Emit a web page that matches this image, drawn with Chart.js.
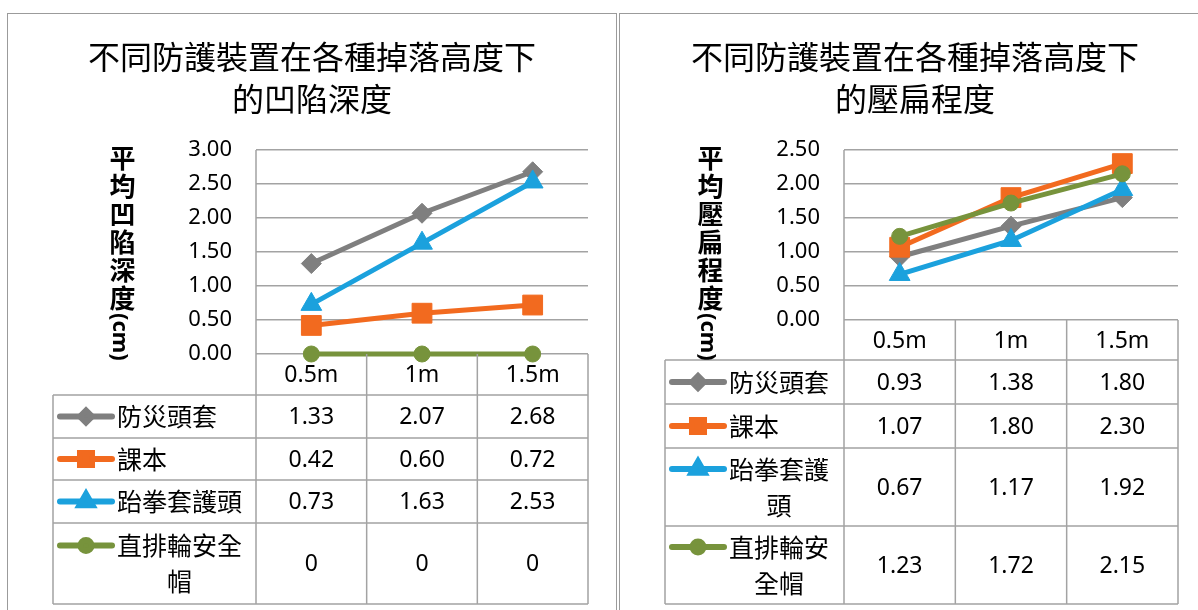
<!DOCTYPE html>
<html>
<head>
<meta charset="utf-8">
<script src="https://cdn.jsdelivr.net/npm/chart.js@4.4.1/dist/chart.umd.min.js"></script>
<style>
html, body { margin: 0; padding: 0; background: #fff; width: 1198px; height: 610px; overflow: hidden; }
.panel { position: absolute; top: 13px; height: 600px; box-sizing: border-box; border: 1px solid #9b9b9b; background: #fff; }
#panelDent { left: 7px; width: 610px; }
#panelFlat { left: 619px; width: 592px; }
.panel canvas { position: absolute; left: 0; top: 0; }
.title { position: absolute; left: 0; right: 0; top: 20px; text-align: center; font: 32px/42px "Noto Sans CJK TC"; color: #000; }
.ytitle { position: absolute; top: 131px; writing-mode: vertical-rl; font: bold 26px "Noto Sans CJK TC"; letter-spacing: 2px; line-height: 30px; color: #000; }
.ytitle span { font: bold 22px "Noto Sans"; letter-spacing: 0; }
</style>
</head>
<body>
<div class="panel" id="panelDent">
  <canvas id="dentChart" width="608" height="598"></canvas>
  <div class="title">不同防護裝置在各種掉落高度下<br>的凹陷深度</div>
  <div class="ytitle" style="left:99px">平均凹陷深度<span>(cm)</span></div>
</div>
<div class="panel" id="panelFlat">
  <canvas id="flatChart" width="590" height="598"></canvas>
  <div class="title">不同防護裝置在各種掉落高度下<br>的壓扁程度</div>
  <div class="ytitle" style="left:75px">平均壓扁程度<span>(cm)</span></div>
</div>
<script>
const dropHeights = ['0.5m', '1m', '1.5m'];
const deviceNames = ['防災頭套', '課本', '跆拳套護頭', '直排輪安全帽'];

// 平均凹陷深度 (cm)
const dentHelmet = [1.33, 2.07, 2.68];
const dentBook = [0.42, 0.60, 0.72];
const dentTaekwondo = [0.73, 1.63, 2.53];
const dentSkate = [0, 0, 0];

// 平均壓扁程度 (cm)
const flatHelmet = [0.93, 1.38, 1.80];
const flatBook = [1.07, 1.80, 2.30];
const flatTaekwondo = [0.67, 1.17, 1.92];
const flatSkate = [1.23, 1.72, 2.15];

const seriesStyles = [
    { color: '#7f7f7f', point: 'rectRot', radius: 10, keyRadius: 6 },
    { color: '#f26a1f', point: 'rect', radius: 14, keyRadius: 8.5 },
    { color: '#1ba1dd', point: 'triangle', radius: 12, keyRadius: 7.5 },
    { color: '#77933c', point: 'circle', radius: 8, keyRadius: 5.5 }
];

const gridColor = '#a3a3a3';

function fmtValue(v) {
    return v === 0 ? '0' : v.toFixed(2);
}

// split a label into lines that fit the given width
function wrapChars(ctx, text, maxWidth) {
    const lines = [];
    let cur = '';
    for (const ch of text) {
        if (cur && ctx.measureText(cur + ch).width > maxWidth) {
            lines.push(cur);
            cur = ch;
        } else {
            cur += ch;
        }
    }
    if (cur) lines.push(cur);
    return lines;
}

// data table under the plot, columns follow the category scale
const dataTable = {
    id: 'dataTable',
    afterDraw(chart, args, opts) {
        const { ctx, chartArea: area } = chart;
        const xScale = chart.scales.x;
        const n = chart.data.labels.length;
        const colW = area.width / n;
        const ys = [area.bottom];
        opts.rowHeights.forEach(h => ys.push(ys[ys.length - 1] + h));
        const bottom = ys[ys.length - 1];

        ctx.save();
        ctx.strokeStyle = gridColor;
        ctx.lineWidth = 1.5;
        ctx.beginPath();
        ctx.moveTo(area.left, area.top);
        ctx.lineTo(area.left, bottom);
        for (let i = 1; i <= n; i++) {
            ctx.moveTo(area.left + i * colW, area.bottom);
            ctx.lineTo(area.left + i * colW, bottom);
        }
        ctx.moveTo(opts.left, ys[1]);
        ctx.lineTo(opts.left, bottom);
        for (let r = 1; r < ys.length; r++) {
            ctx.moveTo(opts.left, ys[r]);
            ctx.lineTo(area.right, ys[r]);
        }
        ctx.stroke();

        ctx.fillStyle = '#000';
        ctx.textAlign = 'center';
        ctx.textBaseline = 'middle';
        ctx.font = '23px "Noto Sans"';
        chart.data.labels.forEach((lab, i) => {
            ctx.fillText(lab, xScale.getPixelForValue(i), (ys[0] + ys[1]) / 2 + 1);
        });

        chart.data.datasets.forEach((ds, r) => {
            const mid = (ys[r + 1] + ys[r + 2]) / 2;
            ctx.font = '23px "Noto Sans"';
            ctx.textAlign = 'center';
            ds.data.forEach((v, i) => {
                ctx.fillText(fmtValue(v), xScale.getPixelForValue(i), mid + 1);
            });

            // series name, wrapped next to the legend key
            ctx.font = '25px "Noto Sans CJK TC"';
            const textX = opts.left + 64;
            const lines = wrapChars(ctx, ds.label, area.left - textX - 2);
            const lineH = 36;
            const firstY = mid - (lines.length - 1) * lineH / 2;
            ctx.textAlign = 'left';
            ctx.fillText(lines[0], textX, firstY);
            const firstW = ctx.measureText(lines[0]).width;
            ctx.textAlign = 'center';
            for (let k = 1; k < lines.length; k++) {
                ctx.fillText(lines[k], textX + firstW / 2, firstY + k * lineH);
            }

            // legend key: line with the series marker
            const st = seriesStyles[r];
            const kx = opts.left + 7;
            ctx.strokeStyle = st.color;
            ctx.lineWidth = 6;
            ctx.lineCap = 'round';
            ctx.beginPath();
            ctx.moveTo(kx, firstY);
            ctx.lineTo(kx + 52, firstY);
            ctx.stroke();
            ctx.fillStyle = st.color;
            Chart.helpers.drawPoint(ctx, {
                pointStyle: st.point,
                radius: st.keyRadius,
                borderWidth: 1,
                rotation: 0
            }, kx + 26, firstY);
            ctx.fillStyle = '#000';
        });
        ctx.restore();
    }
};

function buildDatasets(seriesList) {
    return seriesList.map((values, i) => ({
        label: deviceNames[i],
        data: values,
        borderColor: seriesStyles[i].color,
        backgroundColor: seriesStyles[i].color,
        borderWidth: 5,
        pointStyle: seriesStyles[i].point,
        pointRadius: seriesStyles[i].radius,
        pointHoverRadius: seriesStyles[i].radius,
        pointBorderWidth: 1,
        pointBorderColor: seriesStyles[i].color,
        order: seriesList.length - i,
        tension: 0,
        clip: false
    }));
}

function makeChart(canvasId, seriesList, yMax, padding, rowHeights) {
    const ctx = document.getElementById(canvasId).getContext('2d');
    return new Chart(ctx, {
        type: 'line',
        data: {
            labels: dropHeights,
            datasets: buildDatasets(seriesList)
        },
        options: {
            responsive: false,
            animation: false,
            layout: { padding: padding },
            plugins: {
                legend: { display: false },
                tooltip: { enabled: false },
                dataTable: { left: 45, rowHeights: rowHeights }
            },
            scales: {
                x: {
                    display: false,
                    offset: true
                },
                y: {
                    min: 0,
                    max: yMax,
                    afterFit(scale) { scale.width = 100; },
                    border: { display: false },
                    grid: { color: gridColor, lineWidth: 1.5, drawTicks: false },
                    ticks: {
                        stepSize: 0.5,
                        padding: 24,
                        color: '#000',
                        font: { family: '"Noto Sans"', size: 22 },
                        callback: v => v.toFixed(2)
                    }
                }
            }
        },
        plugins: [dataTable]
    });
}

makeChart('dentChart',
    [dentHelmet, dentBook, dentTaekwondo, dentSkate],
    3,
    { left: 148, right: 28, top: 136, bottom: 258 },
    [41, 43, 42, 43, 81]);

makeChart('flatChart',
    [flatHelmet, flatBook, flatTaekwondo, flatSkate],
    2.5,
    { left: 124, right: 32, top: 136, bottom: 292 },
    [40, 44, 44, 78, 78]);
</script>
</body>
</html>
